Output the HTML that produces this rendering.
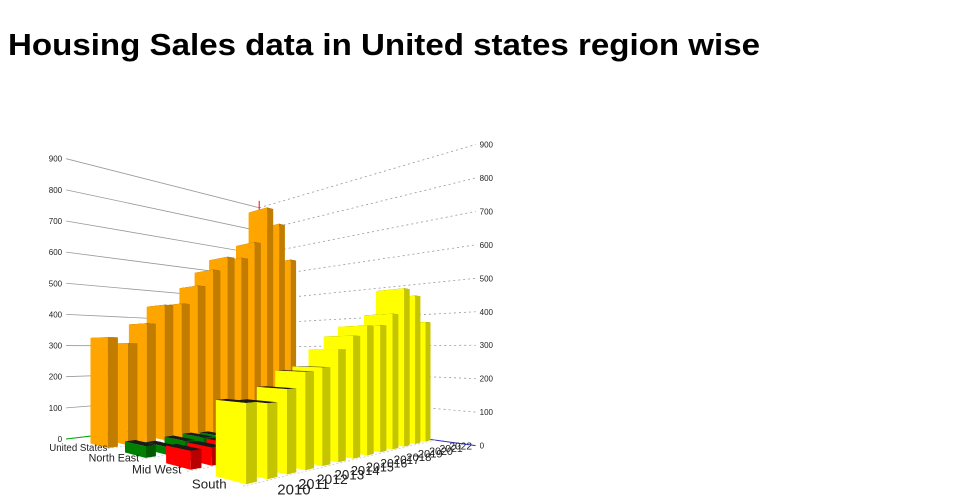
<!DOCTYPE html>
<html><head><meta charset="utf-8"><style>
html,body{margin:0;padding:0;background:#fff;}
svg{display:block;font-family:"Liberation Sans",sans-serif;}
</style></head><body>
<svg id="chart" width="960" height="500" viewBox="0 0 960 500">
<text x="8" y="55" font-size="31" font-weight="bold" fill="#000" textLength="752" lengthAdjust="spacingAndGlyphs">Housing Sales data in United states region wise</text>
<g id="walls"></g>
<g id="bars"></g>
<g id="labels"></g>
</svg>
<script>
const years = ["2010","2011","2012","2013","2014","2015","2016","2017","2018","2019","2020","2021","2022"];
const regions = ["United States","North East","Mid West","South"];
const unitedStates = [323,306,368,429,437,501,561,613,617,683,822,771,641];
const northEast = [31,21,29,31,28,24,32,40,32,34,37,30,32];
const midWest = [45,45,47,61,58,62,70,72,75,73,93,81,72];
const south = [173,168,196,234,243,288,323,352,355,390,468,451,373];
const yTicks = [0,100,200,300,400,500,600,700,800,900];

const series = [unitedStates, northEast, midWest, south];
const faceColors = [["#FFA500","#C27D00"],["#008000","#005A00"],["#FF0000","#B80000"],["#FFFF00","#C4C400"]];
const NS = "http://www.w3.org/2000/svg";
const HORIZON = 350, K = 0.0035;

function solve(A, b){
  const n = b.length;
  for(let i=0;i<n;i++){
    let p=i; for(let r=i+1;r<n;r++) if(Math.abs(A[r][i])>Math.abs(A[p][i])) p=r;
    [A[i],A[p]]=[A[p],A[i]]; [b[i],b[p]]=[b[p],b[i]];
    for(let r=i+1;r<n;r++){const f=A[r][i]/A[i][i]; for(let c=i;c<n;c++) A[r][c]-=f*A[i][c]; b[r]-=f*b[i];}
  }
  const x=new Array(n).fill(0);
  for(let i=n-1;i>=0;i--){let s=b[i]; for(let c=i+1;c<n;c++) s-=A[i][c]*x[c]; x[i]=s/A[i][i];}
  return x;
}
const refs = [[0,0,104,445],[12,0,284,421],[0,3,236,479],[12,3,414,439]];
const A=[], B=[];
refs.forEach(([u,v,x,y])=>{
  A.push([u,v,1,0,0,0,-u*x,-v*x]); B.push(x);
  A.push([0,0,0,u,v,1,-u*y,-v*y]); B.push(y);
});
const H = solve(A,B);
function floorPt(u,v){
  const w=H[6]*u+H[7]*v+1;
  return [(H[0]*u+H[1]*v+H[2])/w,(H[3]*u+H[4]*v+H[5])/w];
}
function P(u,v,val){
  const [x,y]=floorPt(u,v);
  return [x, y - K*(y-HORIZON)*val];
}
function poly(parent, pts, fill){
  const p=document.createElementNS(NS,"polygon");
  p.setAttribute("points", pts.map(q=>q[0].toFixed(1)+","+q[1].toFixed(1)).join(" "));
  p.setAttribute("fill", fill);
  parent.appendChild(p);
  return p;
}
function line(parent,a,b,color,dash,w){
  const l=document.createElementNS(NS,"line");
  l.setAttribute("x1",a[0]);l.setAttribute("y1",a[1]);l.setAttribute("x2",b[0]);l.setAttribute("y2",b[1]);
  l.setAttribute("stroke",color);l.setAttribute("stroke-width",w||1);
  if(dash) l.setAttribute("stroke-dasharray",dash);
  parent.appendChild(l);
  return l;
}
function text(parent,x,y,str,size,anchor,name){
  const t=document.createElementNS(NS,"text");
  t.setAttribute("x",x);t.setAttribute("y",y);t.setAttribute("font-size",size);
  t.setAttribute("text-anchor",anchor);t.setAttribute("fill","#222");
  t.textContent=str;
  
  
  parent.appendChild(t);
  return t;
}

const walls=document.getElementById("walls");
const UA=-0.5, UB=12.5, VW=-0.9, VR=4.0;
yTicks.forEach(t=>{
  const l1=line(walls,P(UA,VW,t),P(UB,VW,t),"#999",null,0.8);
  
  
  const l2=line(walls,P(UB,VW,t),P(UB,VR,t),"#999","2,3",0.8);
  
  
  const a=P(UA,VW,t); text(walls,a[0]-4,a[1]+3,String(t),8,"end","left-y-tick-label");
  const b=P(UB,VR,t); text(walls,b[0]+4,b[1]+3,String(t),8,"start","right-y-tick-label");
});
const ga=line(walls,P(UA,VW,0),P(UB,VW,0),"#0a0",null,1);


const ba=line(walls,P(UB,VW,0),P(UB,VR,0),"#33c",null,1);


const ra=line(walls,P(UB,VW,860),P(UB,VW,930),"#f00",null,1);


for(let j=0;j<regions.length;j++){
  const l=line(walls,P(UA,j+0.3,0),P(UB,j+0.3,0),"#bbb","2,2",0.6);
  
  
}

const barsG=document.getElementById("bars");
const WU=0.5, WV=0.52;
const list=[];
series.forEach((arr,j)=>arr.forEach((val,i)=>list.push({i,j,val,depth:floorPt(i,j)[1]})));
list.sort((a,b)=>a.depth-b.depth);
list.forEach(d=>{
  const u0=d.i-WU/2,u1=d.i+WU/2,v0=d.j-WV/2,v1=d.j+WV/2;
  const g=document.createElementNS(NS,"g");
  
  
  const [c1,c2]=faceColors[d.j];
  poly(g,[P(u0,v0,d.val),P(u1,v0,d.val),P(u1,v1,d.val),P(u0,v1,d.val)],"#1a1a1a");
  poly(g,[P(u0,v0,0),P(u0,v1,0),P(u0,v1,d.val),P(u0,v0,d.val)],c1);
  poly(g,[P(u0,v1,0),P(u1,v1,0),P(u1,v1,d.val),P(u0,v1,d.val)],c2);
  barsG.appendChild(g);
});

const labels=document.getElementById("labels");
regions.forEach((r,j)=>{
  const p=floorPt(-1.3,j+0.05);
  const s=13*(p[1]-HORIZON)/(483-HORIZON);
  text(labels,p[0],p[1]+2,r,Math.max(9,s).toFixed(1),"middle","region-label");
});
years.forEach((y,i)=>{
  const p=floorPt(i+0.5,3.75);
  const s=15*(p[1]-HORIZON)/(488-HORIZON);
  text(labels,p[0],p[1]+6,y,Math.max(7,s).toFixed(1),"middle","year-label");
});
</script>
</body></html>
